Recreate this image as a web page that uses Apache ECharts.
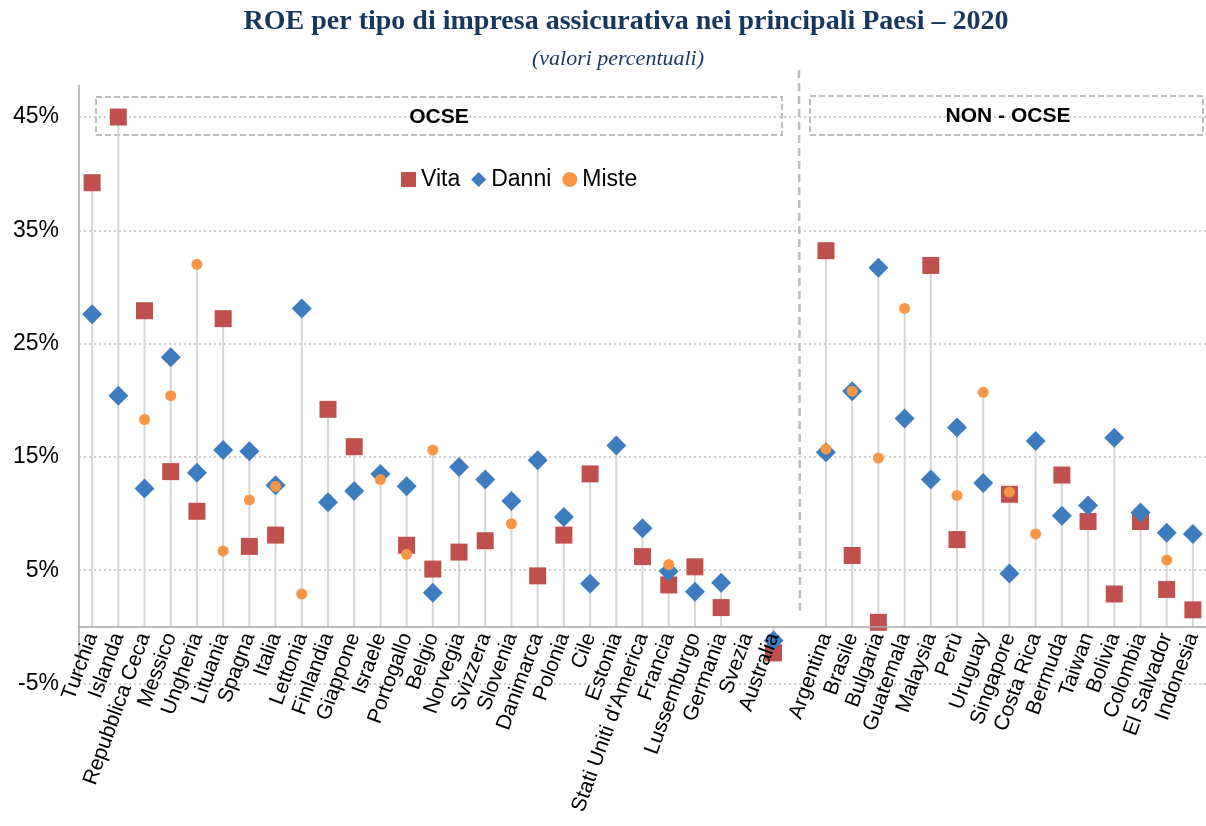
<!DOCTYPE html>
<html>
<head>
<meta charset="utf-8">
<script src="https://cdn.jsdelivr.net/npm/echarts@6/dist/echarts.min.js"></script>
<style>
html,body{margin:0;padding:0;background:#fff;}
#chart{width:1206px;height:826px;}
</style>
</head>
<body>
<div id="chart"></div>
<script>
// ---- Data ----
var ocseCountries = ['Turchia','Islanda','Repubblica Ceca','Messico','Ungheria','Lituania','Spagna','Italia','Lettonia','Finlandia','Giappone','Israele','Portogallo','Belgio','Norvegia','Svizzera','Slovenia','Danimarca','Polonia','Cile','Estonia',"Stati Uniti d'America",'Francia','Lussemburgo','Germania','Svezia','Australia'];
var nonOcseCountries = ['Argentina','Brasile','Bulgaria','Guatemala','Malaysia','Perù','Uruguay','Singapore','Costa Rica','Bermuda','Taiwan','Bolivia','Colombia','El Salvador','Indonesia'];

var vitaOcse  = [39.2,45.0,27.9,13.7,10.2,27.2,7.1,8.1,null,19.2,15.9,null,7.2,5.1,6.6,7.6,null,4.5,8.1,13.5,null,6.2,3.7,5.3,1.7,null,-2.3];
var danniOcse = [27.6,20.4,12.2,23.8,13.6,15.6,15.5,12.5,28.1,11.0,12.0,13.5,12.4,3.0,14.1,13.0,11.1,14.7,9.7,3.8,16.0,8.7,4.9,3.1,3.9,null,-1.2];
var misteOcse = [null,null,18.3,20.4,32.0,6.7,11.2,12.4,2.9,null,null,13.0,6.4,15.6,null,null,9.1,null,null,null,null,null,5.5,null,null,null,null];

var vitaNon  = [33.2,6.3,0.4,null,31.9,7.7,null,11.7,null,13.4,9.3,2.9,9.3,3.3,1.5];
var danniNon = [15.4,20.8,31.7,18.4,13.0,17.6,12.7,4.7,16.4,9.8,10.7,16.7,10.1,8.3,8.2];
var misteNon = [15.7,20.8,14.9,28.1,null,11.6,20.7,11.9,8.2,null,null,null,null,5.9,null];

var groupLabels = ['OCSE','NON - OCSE'];
var seriesNames = ['Vita','Danni','Miste'];

// ---- Build ----
var categories = ocseCountries.concat(['']).concat(nonOcseCountries);
var vita  = vitaOcse.concat([null]).concat(vitaNon);
var danni = danniOcse.concat([null]).concat(danniNon);
var miste = misteOcse.concat([null]).concat(misteNon);

var stems = [];
categories.forEach(function(c, i){
  var vals = [vita[i], danni[i], miste[i]].filter(function(v){return v !== null;});
  if (vals.length) {
    stems.push([i, Math.min(0, Math.min.apply(null, vals)), Math.max(0, Math.max.apply(null, vals))]);
  }
});

var yMin = -5, yMax = 45, yStep = 10;
var gridTop = 117, gridBottom = 142.5, chartH = 826;
// distance from the plot bottom (-5%) up to the zero line, so the category axis sits on 0
var plotH = chartH - gridTop - gridBottom;
var zeroOffset = -plotH * (0 - yMin) / (yMax - yMin);

var chart = echarts.init(document.getElementById('chart'), null, {renderer:'canvas'});
var axisGray = '#A6A6A6';
var boxGray = '#BDBDBD';

var option = {
  backgroundColor: '#fff',
  animation: false,
  title: [
    {text: 'ROE per tipo di impresa assicurativa nei principali Paesi – 2020', left: 621, top: 3, textAlign: 'center',
     textStyle: {fontFamily: 'Liberation Serif', fontWeight: 'bold', fontSize: 28, color: '#17375E'}},
    {text: '(valori percentuali)', left: 613, top: 43, textAlign: 'center',
     textStyle: {fontFamily: 'Liberation Serif', fontStyle: 'italic', fontWeight: 'normal', fontSize: 22, color: '#17375E'}}
  ],
  legend: {
    data: [
      {name: seriesNames[0], icon: 'rect'},
      {name: seriesNames[1], icon: 'diamond'},
      {name: seriesNames[2], icon: 'circle'}
    ],
    left: 396, top: 163, itemWidth: 15, itemHeight: 15, itemGap: 11,
    textStyle: {fontFamily: 'Liberation Sans', fontSize: 23, color: '#000'}
  },
  grid: {left: 79, right: 0, top: gridTop, bottom: gridBottom, containLabel: false, outerBoundsMode: 'none'},
  xAxis: {
    type: 'category', data: categories, boundaryGap: true,
    offset: zeroOffset, z: 8,
    axisLine: {show: true, onZero: false, lineStyle: {color: axisGray, width: 1.5}},
    axisTick: {show: false},
    axisLabel: {interval: 0, rotate: 70, margin: 7, fontFamily: 'Liberation Sans', fontSize: 21, color: '#000'},
    splitLine: {show: false}
  },
  yAxis: {
    type: 'value', min: yMin, max: yMax, interval: yStep,
    axisLine: {show: true, lineStyle: {color: axisGray, width: 1.5}},
    axisTick: {show: false},
    axisLabel: {formatter: '{value}%', margin: 20, fontFamily: 'Liberation Sans', fontSize: 23, color: '#000'},
    splitLine: {show: true, lineStyle: {color: '#BFBFBF', type: [2, 3], width: 1.5}}
  },
  series: [
    {
      type: 'custom', name: 'stems', silent: true, z: 1,
      data: stems,
      encode: {x: 0, y: [1, 2]},
      renderItem: function(params, api){
        var p1 = api.coord([api.value(0), api.value(1)]);
        var p2 = api.coord([api.value(0), api.value(2)]);
        return {type: 'line', shape: {x1: p1[0], y1: p1[1], x2: p2[0], y2: p2[1]},
                style: {stroke: '#D6D6D6', lineWidth: 2}};
      }
    },
    {name: seriesNames[0], type: 'scatter', z: 3, data: vita, symbol: 'rect', symbolSize: 17,
     itemStyle: {color: '#C0504D', opacity: 1}},
    {name: seriesNames[1], type: 'scatter', z: 4, data: danni, symbol: 'diamond', symbolSize: 20,
     itemStyle: {color: '#3E7CC0', opacity: 1}},
    {name: seriesNames[2], type: 'scatter', z: 5, data: miste, symbol: 'circle', symbolSize: 11,
     itemStyle: {color: '#F79646', opacity: 1}}
  ],
  graphic: [
    {type: 'line', shape: {x1: 79, y1: 85, x2: 79, y2: 117}, style: {stroke: axisGray, lineWidth: 1.5}, silent: true},
    {type: 'line', shape: {x1: 799, y1: 70, x2: 800, y2: 615}, style: {stroke: boxGray, lineWidth: 2.5, lineDash: [8, 5]}, silent: true},
    {type: 'rect', shape: {x: 96, y: 97, width: 686, height: 38}, style: {fill: null, stroke: boxGray, lineWidth: 2, lineDash: [6, 3]}, silent: true},
    {type: 'rect', shape: {x: 810, y: 96, width: 393, height: 39}, style: {fill: null, stroke: boxGray, lineWidth: 2, lineDash: [6, 3]}, silent: true},
    {type: 'text', x: 439, y: 117, style: {text: groupLabels[0], align: 'center', verticalAlign: 'middle', font: 'bold 21px "Liberation Sans"', fill: '#000'}, silent: true, z: 10},
    {type: 'text', x: 1008, y: 116, style: {text: groupLabels[1], align: 'center', verticalAlign: 'middle', font: 'bold 21px "Liberation Sans"', fill: '#000'}, silent: true, z: 10}
  ]
};
chart.setOption(option);
</script>
</body>
</html>
